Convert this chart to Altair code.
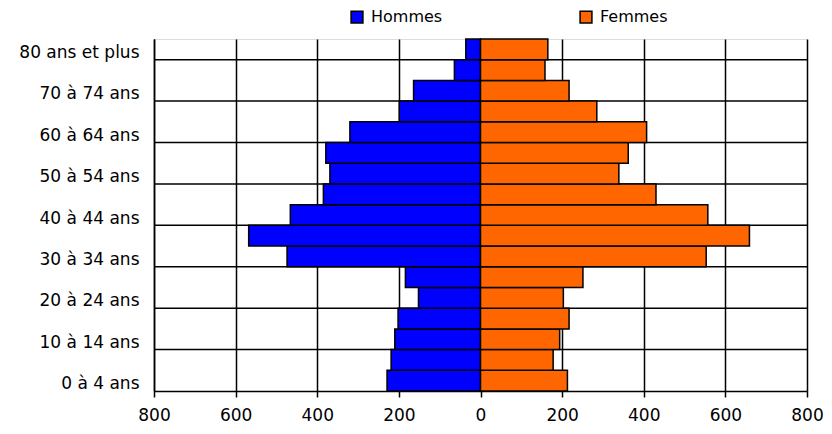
import altair as alt
import pandas as pd

# Age groups, bottom (youngest) to top (oldest)
ages = ["0 à 4 ans", "5 à 9 ans", "10 à 14 ans", "15 à 19 ans", "20 à 24 ans",
        "25 à 29 ans", "30 à 34 ans", "35 à 39 ans", "40 à 44 ans", "45 à 49 ans",
        "50 à 54 ans", "55 à 59 ans", "60 à 64 ans", "65 à 69 ans", "70 à 74 ans",
        "75 à 79 ans", "80 ans et plus"]
hommes = [229, 219, 210, 202, 152, 184, 474, 568, 466, 385, 369, 379, 320, 199, 164, 64, 36]
femmes = [213, 178, 194, 217, 203, 251, 553, 659, 557, 430, 339, 362, 407, 285, 217, 158, 165]
x_ticks = [-800, -600, -400, -200, 0, 200, 400, 600, 800]
grid_rows = [2, 4, 6, 8, 10, 12, 14, 16]

FONT = "DejaVu Sans"

rows = []
for i, a in enumerate(ages):
    rows.append({"idx": i, "age": a, "sexe": "Hommes", "val": -hommes[i]})
    rows.append({"idx": i, "age": a, "sexe": "Femmes", "val": femmes[i]})
df = pd.DataFrame(rows)

label_pos = [i + 0.5 for i in range(0, 17, 2)]
label_expr = "[" + ",".join('"%s"' % a for a in ages) + "][floor(datum.value)]"

hgrid = alt.Chart(pd.DataFrame({"g": grid_rows})).mark_rule(
    color="black", strokeWidth=1.5
).encode(y=alt.Y("g:Q", scale=alt.Scale(domain=[0, 17])))

bars = alt.Chart(df).transform_calculate(
    idx2="datum.idx + 1"
).mark_bar(stroke="black", strokeWidth=1.5).encode(
    x=alt.X("val:Q",
            scale=alt.Scale(domain=[-800, 800], nice=False),
            axis=alt.Axis(values=x_ticks, labelExpr="abs(datum.value)", title=None,
                          grid=True, gridColor="black", gridWidth=1.5, gridOpacity=1,
                          domainColor="black", domainWidth=1.5,
                          tickColor="black", tickWidth=1.5, tickSize=6,
                          labelFontSize=17, labelFont=FONT, labelColor="black",
                          labelFlush=False, labelOverlap=False, labelBound=False,
                          labelPadding=10)),
    x2=alt.datum(0),
    y=alt.Y("idx:Q", scale=alt.Scale(domain=[0, 17], nice=False, zero=False),
            axis=alt.Axis(values=label_pos, labelExpr=label_expr, title=None,
                          grid=False, ticks=False, domainColor="black", domainWidth=1.5,
                          labelFontSize=17, labelFont=FONT, labelColor="black",
                          labelOffset=3, labelFlush=False, labelOverlap=False,
                          labelPadding=15, labelLimit=200)),
    y2="idx2:Q",
    color=alt.Color("sexe:N",
                    scale=alt.Scale(domain=["Hommes", "Femmes"], range=["#0000FF", "#FF6600"]),
                    legend=alt.Legend(title=None, orient="none", direction="horizontal",
                                      legendX=195, legendY=-30,
                                      symbolType="square", symbolSize=140,
                                      symbolStrokeColor="black", symbolStrokeWidth=1.5,
                                      labelFontSize=16, labelFont=FONT, labelColor="black",
                                      columnPadding=134, labelOffset=6, padding=0)),
)

chart = alt.layer(hgrid, bars).properties(
    width=653, height=352,
    autosize=alt.AutoSizeParams(type="none"),
    padding={"left": 146, "top": 31, "right": 17, "bottom": 40},
).configure_view(stroke=None).configure(background="white")

chart.save("out.html", embed_options={"renderer": "svg", "actions": False})
